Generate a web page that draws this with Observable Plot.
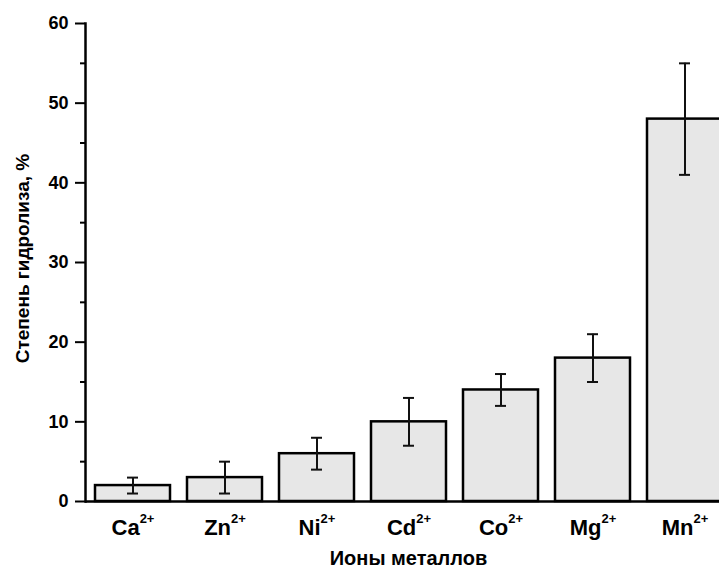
<!DOCTYPE html>
<html>
<head>
<meta charset="utf-8">
<script src="https://cdn.jsdelivr.net/npm/d3@7"></script>
<script src="https://cdn.jsdelivr.net/npm/@observablehq/plot@0.6"></script>
<style>
  html, body { margin: 0; padding: 0; background: #fff; overflow: hidden; }
  #chart svg { display: block; }
</style>
</head>
<body>
<div id="chart"></div>
<script>
const ions = ["Ca", "Zn", "Ni", "Cd", "Co", "Mg", "Mn"];
const charge = "2+";
const hydrolysis = [2, 3, 6, 10, 14, 18, 48];
const errors = [1, 2, 2, 3, 2, 3, 7];
const yTicks = [0, 10, 20, 30, 40, 50, 60];
const yMinorTicks = [5, 15, 25, 35, 45, 55];
const xTitle = "Ионы металлов";
const yTitle = "Степень гидролиза, %";

const data = ions.map((ion, i) => ({
  ion,
  value: hydrolysis[i],
  lo: hydrolysis[i] - errors[i],
  hi: hydrolysis[i] + errors[i]
}));

const font = "'Liberation Sans', Arial, Helvetica, sans-serif";

const chart = Plot.plot({
  width: 719,
  height: 568,
  marginLeft: 85,
  marginRight: -12,
  marginTop: 23,
  marginBottom: 67,
  style: { fontFamily: font, background: "#fff", color: "#000" },
  x: { domain: ions, paddingInner: 0.19, paddingOuter: 0.095, axis: null },
  y: { domain: [0, 60], axis: null },
  marks: [
    Plot.barY(data, { x: "ion", y: "value", fill: "#e7e7e7", stroke: "#000", strokeWidth: 2.5 }),
    Plot.ruleX(data, { x: "ion", y1: "lo", y2: "hi", stroke: "#111", strokeWidth: 2 }),
    Plot.tickY(data, { x: "ion", y: "lo", stroke: "#111", strokeWidth: 2, insetLeft: 32, insetRight: 32 }),
    Plot.tickY(data, { x: "ion", y: "hi", stroke: "#111", strokeWidth: 2, insetLeft: 32, insetRight: 32 }),
    Plot.ruleY([0], { stroke: "#000", strokeWidth: 2.5 }),
    Plot.frame({ anchor: "left", stroke: "#000", strokeWidth: 2.5 }),
    Plot.axisY({ ticks: yTicks, tickSize: 10, tickPadding: 7, strokeWidth: 2, fontSize: 18, fontWeight: "bold", label: null }),
    Plot.axisY({ ticks: yMinorTicks, tickSize: 5, tickFormat: () => "", strokeWidth: 2, label: null }),
    Plot.axisX({ tickSize: 0, tickPadding: 18, fontSize: 22, fontWeight: "bold", label: null }),
    Plot.text([xTitle], { frameAnchor: "bottom", dy: 57, lineAnchor: "middle", textAnchor: "middle", fontSize: 20, fontWeight: "bold", fill: "#000" }),
    Plot.text([yTitle], { frameAnchor: "left", dx: -63, dy: -4, rotate: -90, lineAnchor: "middle", textAnchor: "middle", fontSize: 19, fontWeight: "bold", fill: "#000" })
  ]
});

document.getElementById("chart").appendChild(chart);

// add the "2+" superscripts to the ion tick labels
d3.select(chart).selectAll('[aria-label="x-axis tick label"] text').each(function () {
  const t = d3.select(this);
  const base = t.text();
  t.text(null);
  t.append("tspan").text(base);
  t.append("tspan").attr("font-size", 13).attr("dy", "-12px").text(charge);
});
</script>
</body>
</html>
